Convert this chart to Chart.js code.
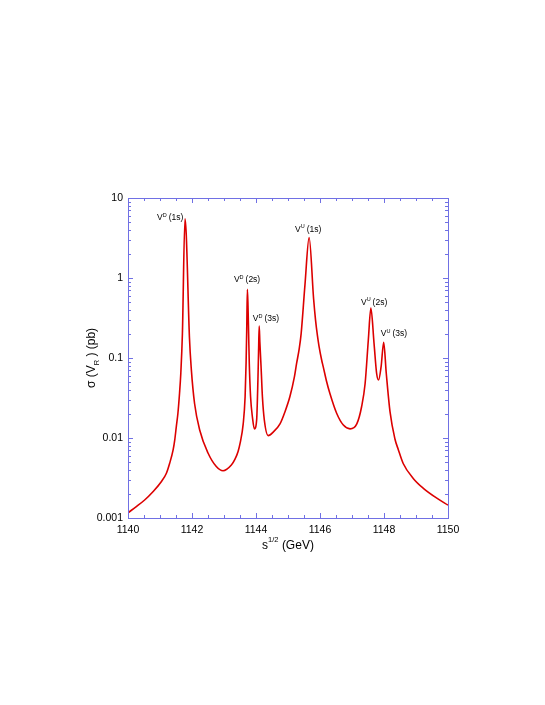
<!DOCTYPE html>
<html>
<head>
<meta charset="utf-8">
<script src="https://cdn.jsdelivr.net/npm/chart.js@4.4.0/dist/chart.umd.min.js"></script>
<style>
  html, body { margin: 0; padding: 0; background: #fff; }
  #wrap { width: 545px; height: 705px; }
</style>
</head>
<body>
<div id="wrap"><canvas id="chart" width="545" height="705"></canvas></div>
<script>
// sqrt(s) in GeV and cross section in pb
const energy = [
  1140.00, 1140.26, 1140.52, 1140.78, 1141.04, 1141.20, 1141.30, 1141.41, 1141.46, 1141.51,
  1141.56, 1141.61, 1141.65, 1141.70, 1141.78, 1141.82, 1141.92, 1141.98, 1142.08, 1142.24,
  1142.50, 1142.76, 1142.97, 1143.23, 1143.34, 1143.44, 1143.50, 1143.60, 1143.66, 1143.69,
  1143.71, 1143.73, 1143.75, 1143.77, 1143.79, 1143.83, 1143.89, 1143.95, 1144.02, 1144.06,
  1144.08, 1144.10, 1144.12, 1144.16, 1144.20, 1144.26, 1144.38, 1144.55, 1144.75, 1144.90,
  1145.06, 1145.20, 1145.27, 1145.35, 1145.41, 1145.53, 1145.66, 1145.80, 1145.86, 1145.92,
  1145.97, 1146.05, 1146.10, 1146.20, 1146.31, 1146.52, 1146.73, 1146.94, 1147.15, 1147.30,
  1147.41, 1147.51, 1147.59, 1147.69, 1147.77, 1147.83, 1147.91, 1147.99, 1148.07, 1148.19,
  1148.34, 1148.45, 1148.60, 1148.92, 1149.23, 1149.65, 1150.00
];
const sigma = [
  0.00116, 0.00139, 0.00168, 0.00213, 0.00284, 0.00363, 0.00480, 0.00710, 0.00940, 0.0139,
  0.0204, 0.036, 0.064, 0.20, 5.5, 3.5, 0.18, 0.071, 0.027, 0.0126,
  0.0065, 0.0044, 0.0039, 0.0046, 0.0054, 0.0068, 0.0085, 0.015, 0.033, 0.086,
  0.22, 0.72, 0.45, 0.20, 0.086, 0.033, 0.018, 0.013, 0.0168, 0.053,
  0.12, 0.25, 0.16, 0.075, 0.033, 0.0168, 0.0107, 0.0120, 0.0150, 0.0210,
  0.033, 0.058, 0.086, 0.13, 0.20, 0.82, 3.2, 0.55, 0.30, 0.19,
  0.14, 0.095, 0.078, 0.052, 0.036, 0.0204, 0.0145, 0.013, 0.015, 0.0246,
  0.048, 0.168, 0.42, 0.15, 0.064, 0.053, 0.078, 0.157, 0.065, 0.021,
  0.0098, 0.0071, 0.0048, 0.0031, 0.00235, 0.00177, 0.00145
];

const xTickValues = [1140, 1142, 1144, 1146, 1148, 1150];
const xTickLabels = ['1140', '1142', '1144', '1146', '1148', '1150'];
const yTickValues = [0.001, 0.01, 0.1, 1, 10];
const yTickLabels = ['0.001', '0.01', '0.1', '1', '10'];

// resonance labels, anchored in data coordinates (left end of text, baseline)
const peakSup = ['D', 'D', 'D', 'U', 'U', 'U'];
const peakState = ['(1s)', '(2s)', '(3s)', '(1s)', '(2s)', '(3s)'];
const peakLabelX = [1140.91, 1143.31, 1143.90, 1145.22, 1147.28, 1147.90];
const peakLabelY = [5.3, 0.89, 0.29, 3.76, 0.46, 0.188];

const axisBlue = 'rgb(112,112,228)';
const fam = '"Liberation Sans", Arial, Helvetica, sans-serif';

const framePlugin = {
  id: 'frame',
  afterDraw(chart) {
    const { ctx, chartArea: a, scales: { x, y } } = chart;
    ctx.save();
    ctx.strokeStyle = axisBlue;
    ctx.lineWidth = 1;
    ctx.strokeRect(a.left + 0.5, a.top + 0.5, a.right - a.left, a.bottom - a.top);

    // x ticks, inward on bottom and top
    ctx.beginPath();
    for (let v = xTickValues[0]; v <= xTickValues[xTickValues.length - 1] + 1e-9; v += 0.5) {
      const px = Math.round(x.getPixelForValue(v)) + 0.5;
      const len = xTickValues.includes(v) ? 5 : 3;
      ctx.moveTo(px, a.bottom); ctx.lineTo(px, a.bottom - len);
      ctx.moveTo(px, a.top); ctx.lineTo(px, a.top + len);
    }
    // y ticks, inward on left and right
    yTickValues.forEach((d, i) => {
      const mult = i < yTickValues.length - 1 ? [1, 2, 3, 4, 5, 6, 7, 8, 9] : [1];
      mult.forEach(m => {
        const py = Math.round(y.getPixelForValue(d * m)) + 0.5;
        const len = m === 1 ? 5 : 3;
        ctx.moveTo(a.left, py); ctx.lineTo(a.left + len, py);
        ctx.moveTo(a.right, py); ctx.lineTo(a.right - len, py);
      });
    });
    ctx.stroke();

    ctx.fillStyle = '#000';
    ctx.textBaseline = 'alphabetic';
    ctx.textAlign = 'left';

    // peak labels
    peakSup.forEach((sup, i) => {
      let px = x.getPixelForValue(peakLabelX[i]);
      const py = y.getPixelForValue(peakLabelY[i]);
      ctx.font = '8.5px ' + fam;
      ctx.fillText('V', px, py);
      px += ctx.measureText('V').width;
      ctx.font = '5.5px ' + fam;
      ctx.fillText(sup, px, py - 3.5);
      px += ctx.measureText(sup).width + 2;
      ctx.font = '8.5px ' + fam;
      ctx.fillText(peakState[i], px, py);
    });

    // x title: s^{1/2} (GeV)
    const parts = [['s', 12, 0], ['1/2', 7.5, -7], [' (GeV)', 12, 0]];
    let total = 0;
    parts.forEach(p => { ctx.font = p[1] + 'px ' + fam; total += ctx.measureText(p[0]).width; });
    let tx = (a.left + a.right) / 2 - total / 2;
    parts.forEach(p => {
      ctx.font = p[1] + 'px ' + fam;
      ctx.fillText(p[0], tx, 549 + p[2]);
      tx += ctx.measureText(p[0]).width;
    });

    // y title: sigma (V_R) (pb), rotated
    ctx.translate(95, (a.top + a.bottom) / 2);
    ctx.rotate(-Math.PI / 2);
    const yparts = [['\u03c3 (V', 12, 0], ['R', 7.5, 3.5], [' ) (pb)', 12, 0]];
    total = 0;
    yparts.forEach(p => { ctx.font = p[1] + 'px ' + fam; total += ctx.measureText(p[0]).width; });
    tx = -total / 2;
    yparts.forEach(p => {
      ctx.font = p[1] + 'px ' + fam;
      ctx.fillText(p[0], tx, p[2]);
      tx += ctx.measureText(p[0]).width;
    });
    ctx.restore();
  }
};

new Chart(document.getElementById('chart'), {
  type: 'scatter',
  data: {
    datasets: [{
      data: energy.map((e, i) => ({ x: e, y: sigma[i] })),
      showLine: true,
      borderColor: 'rgb(220,0,0)',
      borderWidth: 1.6,
      pointRadius: 0,
      cubicInterpolationMode: 'monotone',
      fill: false
    }]
  },
  options: {
    responsive: false,
    animation: false,
    devicePixelRatio: 1,
    layout: { padding: { left: 0, top: 198, right: 97, bottom: 0 } },
    plugins: { legend: { display: false }, tooltip: { enabled: false } },
    scales: {
      x: {
        type: 'linear',
        min: 1140,
        max: 1150,
        afterBuildTicks: (s) => { s.ticks = xTickValues.map(v => ({ value: v })); },
        afterFit: (s) => { s.height = 187; },
        grid: { display: false, drawTicks: false },
        border: { display: false },
        ticks: {
          color: '#000',
          font: { family: fam, size: 10.5 },
          padding: 6,
          maxRotation: 0,
          autoSkip: false,
          callback: (v, i) => xTickLabels[i]
        }
      },
      y: {
        type: 'logarithmic',
        min: 0.001,
        max: 10,
        afterBuildTicks: (s) => { s.ticks = yTickValues.map(v => ({ value: v })); },
        afterFit: (s) => { s.width = 128; },
        grid: { display: false, drawTicks: false },
        border: { display: false },
        ticks: {
          color: '#000',
          font: { family: fam, size: 10.5 },
          padding: 5,
          autoSkip: false,
          callback: (v, i) => yTickLabels[i]
        }
      }
    }
  },
  plugins: [framePlugin]
});
</script>
</body>
</html>
